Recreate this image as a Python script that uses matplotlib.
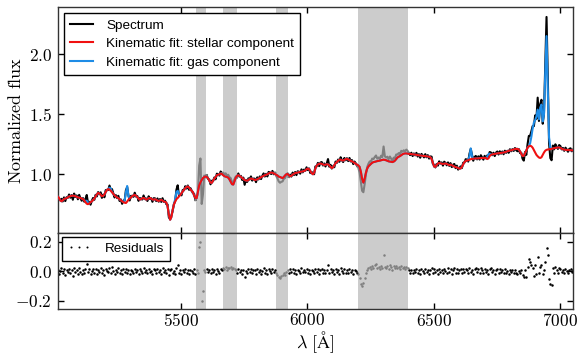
import numpy as np
import matplotlib
matplotlib.use("Agg")
import matplotlib.pyplot as plt
from matplotlib.ticker import FuncFormatter, FixedLocator

plt.rcParams['mathtext.fontset'] = 'cm'
plt.rcParams['font.family'] = ['Liberation Sans', 'DejaVu Sans']

# ---------------- data ----------------
wave = np.arange(5012, 7053, 5)          # wavelength sampling [Angstrom]

stellar = [
    0.812, 0.800, 0.780, 0.772, 0.780, 0.790, 0.796, 0.798, 0.805, 0.812,
    0.815, 0.818, 0.820, 0.818, 0.815, 0.810, 0.805, 0.802, 0.800, 0.796,
    0.790, 0.780, 0.765, 0.752, 0.748, 0.755, 0.765, 0.772, 0.782, 0.795,
    0.812, 0.830, 0.842, 0.838, 0.825, 0.815, 0.818, 0.830, 0.850, 0.866,
    0.874, 0.870, 0.860, 0.848, 0.835, 0.822, 0.812, 0.805, 0.798, 0.790,
    0.780, 0.772, 0.765, 0.760, 0.758, 0.770, 0.785, 0.795, 0.806, 0.815,
    0.822, 0.826, 0.818, 0.808, 0.795, 0.786, 0.790, 0.798, 0.800, 0.795,
    0.786, 0.790, 0.798, 0.800, 0.795, 0.788, 0.785, 0.790, 0.786, 0.778,
    0.775, 0.780, 0.784, 0.778, 0.770, 0.768, 0.762, 0.730, 0.660, 0.618,
    0.640, 0.700, 0.745, 0.770, 0.790, 0.800, 0.812, 0.825, 0.840, 0.855,
    0.868, 0.882, 0.892, 0.896, 0.888, 0.872, 0.860, 0.850, 0.820, 0.800,
    0.798, 0.850, 0.905, 0.930, 0.950, 0.966, 0.975, 0.980, 0.975, 0.965,
    0.945, 0.928, 0.926, 0.945, 0.962, 0.975, 0.990, 0.994, 0.998, 1.004,
    1.000, 0.990, 0.982, 0.978, 0.975, 0.970, 0.955, 0.935, 0.915, 0.912,
    0.940, 0.970, 0.985, 0.990, 0.984, 0.976, 0.968, 0.958, 0.950, 0.946,
    0.944, 0.950, 0.958, 0.962, 0.960, 0.955, 0.950, 0.952, 0.956, 0.962,
    0.968, 0.974, 0.980, 0.985, 0.990, 0.994, 0.998, 1.004, 1.010, 1.013,
    1.010, 1.006, 1.000, 0.995, 0.988, 0.978, 0.975, 0.970, 0.966, 0.975,
    0.988, 0.998, 1.000, 0.990, 0.982, 0.985, 0.995, 1.002, 1.008, 1.010,
    1.012, 1.015, 1.018, 1.020, 1.022, 1.025, 1.030, 1.040, 1.046, 1.040,
    1.025, 1.008, 0.998, 1.010, 1.045, 1.070, 1.080, 1.085, 1.088, 1.085,
    1.080, 1.076, 1.078, 1.082, 1.080, 1.072, 1.060, 1.050, 1.056, 1.075,
    1.090, 1.100, 1.110, 1.118, 1.120, 1.114, 1.112, 1.118, 1.124, 1.126,
    1.122, 1.116, 1.110, 1.106, 1.100, 1.092, 1.085, 1.078, 1.072, 1.060,
    1.020, 0.960, 0.928, 0.960, 1.010, 1.045, 1.064, 1.075, 1.085, 1.094,
    1.100, 1.102, 1.105, 1.108, 1.110, 1.112, 1.115, 1.118, 1.120, 1.118,
    1.115, 1.110, 1.106, 1.104, 1.102, 1.100, 1.104, 1.112, 1.125, 1.138,
    1.145, 1.150, 1.158, 1.165, 1.170, 1.172, 1.172, 1.170, 1.168, 1.168,
    1.166, 1.165, 1.164, 1.162, 1.160, 1.158, 1.156, 1.155, 1.154, 1.152,
    1.150, 1.150, 1.148, 1.146, 1.145, 1.140, 1.125, 1.095, 1.062, 1.060,
    1.075, 1.088, 1.092, 1.090, 1.086, 1.084, 1.086, 1.088, 1.085, 1.078,
    1.075, 1.078, 1.074, 1.068, 1.062, 1.058, 1.055, 1.050, 1.045, 1.046,
    1.060, 1.080, 1.100, 1.108, 1.112, 1.116, 1.120, 1.124, 1.126, 1.128,
    1.129, 1.130, 1.130, 1.131, 1.132, 1.133, 1.133, 1.134, 1.134, 1.134,
    1.125, 1.130, 1.150, 1.160, 1.164, 1.166, 1.168, 1.170, 1.172, 1.174,
    1.175, 1.176, 1.178, 1.180, 1.182, 1.186, 1.190, 1.194, 1.196, 1.198,
    1.202, 1.206, 1.208, 1.210, 1.210, 1.205, 1.190, 1.170, 1.150, 1.152,
    1.175, 1.200, 1.220, 1.232, 1.236, 1.232, 1.220, 1.200, 1.180, 1.160,
    1.148, 1.138, 1.134, 1.140, 1.160, 1.180, 1.195, 1.202, 1.205, 1.206,
    1.208, 1.210, 1.213, 1.216, 1.218, 1.220, 1.222, 1.222, 1.218, 1.212,
    1.206, 1.204, 1.202, 1.201, 1.200, 1.200, 1.199, 1.198, 1.198,
]

# emission-line (gas) contribution on top of the stellar fit
gas_wave = [5122, 5127, 5132, 5217, 5222, 5277, 5282, 5287, 5292,
            5477, 5482, 5487, 5492, 6642, 6647, 6652, 6712, 6717, 6722,
            6882, 6887, 6892, 6897, 6902, 6907, 6912, 6917, 6922, 6927,
            6932, 6937, 6942, 6947, 6952, 6957, 6962]
gas_flux = [0.010, 0.025, 0.015, 0.015, 0.020, 0.020, 0.090, 0.130, 0.030,
            0.020, 0.060, 0.060, 0.020, 0.030, 0.090, 0.025, 0.020, 0.035, 0.020,
            0.020, 0.080, 0.160, 0.230, 0.270, 0.320, 0.390, 0.320, 0.420, 0.440,
            0.280, 0.320, 0.650, 0.950, 0.500, 0.100, 0.010]

residuals = [
    0.012, -0.018, 0.005, 0.021, -0.009, 0.015, -0.022, 0.008, -0.004, 0.017,
    -0.013, 0.006, -0.035, 0.019, -0.007, 0.011, -0.016, 0.024, -0.002, -0.019,
    0.009, -0.011, 0.016, 0.048, -0.006, 0.013, -0.021, 0.004, 0.018, -0.010,
    0.014, -0.017, 0.007, -0.003, 0.022, -0.014, 0.010, -0.024, 0.015, 0.002,
    -0.008, 0.019, -0.012, 0.026, 0.005, -0.018, 0.012, -0.006, 0.020, -0.015,
    0.008, -0.021, 0.013, -0.004, 0.017, -0.010, 0.006, -0.016, 0.011, 0.003,
    -0.012, 0.018, -0.007, 0.009, -0.019, 0.014, 0.002, -0.011, 0.021, -0.005,
    0.010, -0.015, 0.016, -0.008, 0.004, -0.020, 0.013, 0.007, -0.012, 0.018,
    -0.006, 0.011, -0.017, 0.020, -0.003, 0.009, -0.014, 0.015, -0.022, 0.006,
    0.013, -0.009, 0.004, -0.016, 0.019, 0.046, -0.011, 0.007, -0.018, 0.012,
    -0.004, 0.016, -0.013, 0.008, -0.020, 0.011, 0.003, -0.009, 0.015, -0.017,
    0.006, -0.010, 0.165, 0.200, -0.200, -0.135, 0.012, -0.008, 0.015, -0.006,
    0.010, -0.014, 0.018, -0.005, 0.009, -0.019, 0.013, 0.004, -0.011, 0.017,
    0.008, 0.022, 0.016, 0.028, 0.012, 0.024, 0.019, 0.030, 0.014, 0.021,
    0.018, 0.010, -0.012, 0.015, -0.006, 0.009, -0.017, 0.012, -0.040, 0.005,
    -0.010, 0.014, -0.003, 0.018, -0.015, 0.007, 0.011, -0.020, 0.016, -0.007,
    0.012, -0.016, 0.005, 0.020, -0.011, 0.008, -0.018, 0.014, 0.002, -0.013,
    0.016, -0.008, 0.010, -0.012, -0.025, -0.040, -0.048, -0.035, -0.028, -0.015,
    -0.022, -0.005, 0.008, -0.014, 0.013, -0.006, 0.017, -0.011, 0.009, -0.019,
    0.011, 0.004, -0.015, 0.019, -0.008, 0.012, -0.003, 0.016, -0.013, 0.007,
    -0.017, 0.010, 0.005, -0.012, 0.018, -0.006, 0.013, -0.019, 0.008, 0.015,
    -0.009, 0.012, -0.015, 0.006, 0.045, -0.011, 0.017, -0.004, 0.010, -0.018,
    0.014, -0.007, 0.011, -0.016, 0.020, 0.003, -0.012, 0.016, -0.009, 0.006,
    -0.014, 0.018, -0.005, 0.010, -0.017, 0.012, 0.004, -0.010, -0.020, -0.048,
    -0.085, -0.100, -0.080, -0.045, -0.015, 0.012, 0.022, 0.030, 0.018, 0.035,
    0.025, 0.040, 0.050, 0.020, 0.028, 0.015, 0.038, 0.024, 0.110, 0.030,
    0.022, 0.035, 0.018, 0.042, 0.026, 0.012, 0.033, 0.020, 0.038, 0.025,
    0.030, 0.016, 0.036, 0.022, 0.028, 0.018, 0.032, 0.024, 0.006, -0.010,
    0.012, -0.015, 0.008, -0.006, 0.017, -0.012, 0.010, -0.019, 0.014, 0.003,
    -0.011, 0.016, -0.008, 0.012, -0.016, 0.007, 0.020, -0.010, 0.013, -0.005,
    0.009, -0.018, 0.014, -0.003, 0.011, -0.014, 0.017, 0.005, -0.012, 0.019,
    -0.007, 0.013, -0.016, 0.010, 0.022, -0.009, 0.015, -0.013, 0.006, 0.018,
    -0.010, 0.014, -0.005, 0.016, 0.008, -0.012, 0.019, -0.004, 0.011, -0.017,
    0.013, 0.021, -0.008, 0.017, -0.011, 0.024, 0.006, -0.014, 0.018, -0.003,
    0.010, -0.016, 0.014, 0.020, -0.007, 0.012, -0.018, 0.009, 0.016, -0.011,
    0.015, -0.006, 0.010, -0.015, 0.013, -0.009, 0.004, -0.017, 0.011, -0.008,
    0.006, -0.013, 0.009, -0.011, -0.020, 0.004, -0.015, 0.008, -0.022, -0.040,
    0.010, -0.040, 0.030, 0.086, 0.063, 0.045, 0.020, -0.030, 0.040, -0.020,
    0.100, -0.015, 0.030, 0.040, -0.020, 0.010, 0.060, 0.160, 0.110, -0.050,
    -0.085, -0.095, 0.025, -0.010, 0.030, 0.008, -0.012, 0.020, 0.015, -0.006,
    0.012, -0.010, 0.018, 0.004, -0.014, 0.010, 0.016, -0.008, 0.006,
]

masked_regions = [(5560, 5600), (5665, 5720), (5875, 5925), (6200, 6400)]

# ---------------- derived arrays ----------------
stellar = np.array(stellar)
resid = np.array(residuals)
total = stellar.copy()
for w, g in zip(gas_wave, gas_flux):
    total[np.searchsorted(wave, w)] += g
spectrum = total + resid

mask = np.zeros(wave.size, bool)
for a, b in masked_regions:
    mask |= (wave >= a) & (wave <= b)
mask_wide = mask | np.roll(mask, 1) | np.roll(mask, -1)

# ---------------- figure ----------------
fig = plt.figure(figsize=(5.77, 3.56), dpi=100)
ax1 = fig.add_axes([0.1000, 0.3447, 0.8936, 0.6356])
ax2 = fig.add_axes([0.1000, 0.1312, 0.8936, 0.2135], sharex=ax1)

for ax in (ax1, ax2):
    for a, b in masked_regions:
        ax.axvspan(a, b, color='#cccccc', lw=0, zorder=0)

h_spec, = ax1.plot(wave, np.where(mask, np.nan, spectrum), color='black', lw=1.5,
                   label='Spectrum', zorder=2)
ax1.plot(wave, np.where(mask_wide, spectrum, np.nan), color='#7f7f7f', lw=1.5, zorder=2)
h_gas, = ax1.plot(wave, total, color='#1e8ce6', lw=1.5,
                  label='Kinematic fit: gas component', zorder=3)
h_star, = ax1.plot(wave, stellar, color='#f01010', lw=1.5,
                   label='Kinematic fit: stellar component', zorder=4)

ax2.plot(wave[~mask], resid[~mask], '.', color='black', ms=3.6, mew=0,
         label='Residuals', zorder=2)
ax2.plot(wave[mask], resid[mask], '.', color='#7f7f7f', ms=3.6, mew=0, zorder=2)

ax1.set_xlim(5012, 7053)
ax1.set_ylim(0.505, 2.395)
ax2.set_ylim(-0.258, 0.258)

ax1.yaxis.set_major_locator(FixedLocator([1.0, 1.5, 2.0]))
ax2.yaxis.set_major_locator(FixedLocator([-0.2, 0.0, 0.2]))
ax2.xaxis.set_major_locator(FixedLocator([5500, 6000, 6500, 7000]))

ax1.yaxis.set_major_formatter(FuncFormatter(lambda v, p: r'$%.1f$' % v))
ax2.yaxis.set_major_formatter(FuncFormatter(lambda v, p: r'$%.1f$' % (0.0 if abs(v) < 1e-9 else v)))
ax2.xaxis.set_major_formatter(FuncFormatter(lambda v, p: r'$%d$' % v))

for ax in (ax1, ax2):
    ax.tick_params(direction='in', top=True, right=True, length=4, width=1,
                   labelsize=12.5, pad=4, colors='black')
    for s in ax.spines.values():
        s.set_linewidth(1.0)
        s.set_color('#333333')
ax1.tick_params(labelbottom=False)
ax2.tick_params(axis='x', pad=2)

ax1.set_ylabel(r'$\mathrm{Normalized\ flux}$', fontsize=13, labelpad=3)
ax2.set_xlabel(r'$\lambda\ [\mathrm{\AA}]$', fontsize=13, labelpad=0)

leg1 = ax1.legend(handles=[h_spec, h_star, h_gas], loc='upper left', fontsize=9.7,
                  fancybox=False, framealpha=1, edgecolor='black',
                  handlelength=1.7, handletextpad=1.0, labelspacing=0.45,
                  borderpad=0.45, borderaxespad=0.45)
leg1.get_frame().set_linewidth(1.0)
leg2 = ax2.legend(loc='upper left', fontsize=9.7, numpoints=3, markerscale=0.8,
                  fancybox=False, framealpha=1, edgecolor='black',
                  handlelength=1.8, handletextpad=1.0, borderpad=0.4,
                  borderaxespad=0.3)
leg2.get_frame().set_linewidth(1.0)

fig.savefig('out.png', dpi=100)
